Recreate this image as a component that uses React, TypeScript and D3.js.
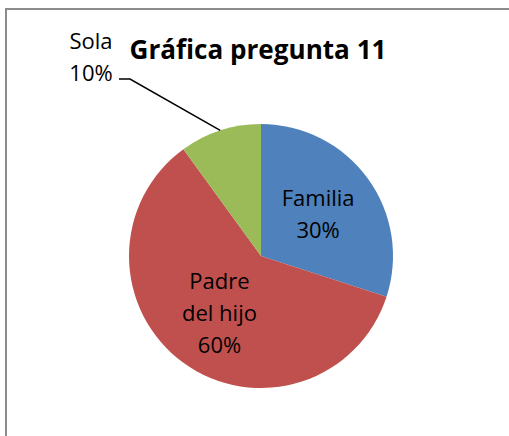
import React from "react";
import * as d3 from "d3";

const categories = ["Familia", "Padre del hijo", "Sola"];
const values = [30, 60, 10];
const colors = ["#4F81BD", "#C0504D", "#9BBB59"];
const labelLines = [["Familia", "30%"], ["Padre", "del hijo", "60%"], ["Sola", "10%"]];
const title = "Gráfica pregunta 11";

const W = 509;
const H = 436;
const cx = 261;
const cy = 256;
const R = 132;

export default function App() {
  const pie = d3.pie<number>().sort(null).value((d) => d)(values);
  const arc = d3.arc<d3.PieArcDatum<number>>().innerRadius(0).outerRadius(R);
  const font = "'Open Sans', 'Liberation Sans', sans-serif";
  const lh = 32;

  const inner = d3.arc<d3.PieArcDatum<number>>().innerRadius(R * 0.535).outerRadius(R * 0.535);

  return (
    <svg width={W} height={H} style={{ position: "absolute", left: 0, top: 0, background: "#fff" }}>
      <rect x={6} y={9} width={W + 20} height={H + 20} fill="#fff" stroke="#8c8c8c" strokeWidth={2} />
      <text x={258} y={59} textAnchor="middle" fontFamily={font} fontWeight="bold" fontSize={26}
        textLength={257} lengthAdjust="spacingAndGlyphs" fill="#000">{title}</text>
      <g transform={`translate(${cx},${cy})`}>
        {pie.map((p, i) => (
          <path key={categories[i]} d={arc(p) || ""} fill={colors[i]} />
        ))}
      </g>
      {pie.map((p, i) => {
        const lines = labelLines[i];
        if (i === 2) {
          const mid = (p.startAngle + p.endAngle) / 2;
          const ex = cx + R * Math.sin(mid);
          const ey = cy - R * Math.cos(mid);
          return (
            <g key={categories[i]}>
              <polyline points={`119,79 130,79 ${ex},${ey}`} fill="none" stroke="#000" strokeWidth={1.5} />
              {lines.map((t, k) => (
                <text key={k} x={91} y={48.5 + k * lh} textAnchor="middle" fontFamily={font} fontSize={22} fill="#000">{t}</text>
              ))}
            </g>
          );
        }
        const [lx, ly] = inner.centroid(p);
        const x = cx + lx;
        const n = lines.length;
        const baseY = cy + ly - ((n - 1) * lh) / 2 + 8;
        return (
          <g key={categories[i]}>
            {lines.map((t, k) => (
              <text key={k} x={x} y={baseY + k * lh} textAnchor="middle" fontFamily={font} fontSize={22} fill="#000">{t}</text>
            ))}
          </g>
        );
      })}
    </svg>
  );
}
